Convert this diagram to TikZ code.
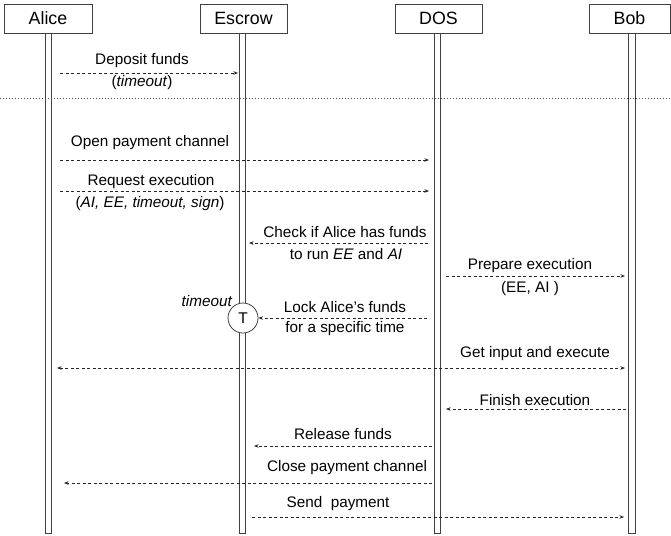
\documentclass[tikz,border=0pt]{standalone}
\usepackage{fontspec}
\setmainfont{Liberation Sans}
\usetikzlibrary{arrows.meta}
\begin{document}
\begin{tikzpicture}[x=1pt,y=-1pt,
  actor/.style={draw=black!75, line width=0.8pt, fill=white, minimum height=29pt, inner sep=0pt, font=\fontsize{17.8}{20}\selectfont},
  life/.style={draw=black!75, line width=0.9pt, fill=white, minimum width=6.5pt, minimum height=500pt, inner sep=0pt},
  msg/.style={draw=black!85, line width=0.65pt, dash pattern=on 3pt off 2.5pt, -{Stealth[length=4.5pt,width=3.5pt]}},
  lbl/.style={font=\fontsize{15.3}{18}\selectfont, inner sep=0pt, anchor=center},
  sep/.style={draw=black!65, line width=0.8pt, dash pattern=on 1pt off 2pt}
]
\useasboundingbox (0,0) rectangle (671,535);

% lifelines
\node[life] (lA) at (48.5,283) {};
\node[life] (lE) at (242.5,283) {};
\node[life] (lD) at (437.5,283) {};
\node[life] (lB) at (632,283) {};

% actors
\node[actor, minimum width=88pt] (A) at (48,18.5) {Alice};
\node[actor, minimum width=87pt] (E) at (243.5,18.5) {Escrow};
\node[actor, minimum width=87pt] (D) at (438.5,18.5) {DOS};
\node[actor, minimum width=81pt] (B) at (629.5,18.5) {Bob};

% separator
\coordinate (s1) at (0,98);
\coordinate (s2) at (671,98);
\draw[sep] (s1) -- (s2);

% 1 deposit
\coordinate (m1s) at (60,73);  \coordinate (m1e) at (238,73);
\draw[msg] (m1s) -- (m1e);
\node[lbl] (t1a) at (142,61) {Deposit funds};
\node[lbl] (t1b) at (142,83) {(\textit{timeout})};

% 2 open channel
\coordinate (m2s) at (60,160);  \coordinate (m2e) at (429,160);
\draw[msg] (m2s) -- (m2e);
\node[lbl] (t2) at (150,143) {Open payment channel};

% 3 request execution
\coordinate (m3s) at (60,191);  \coordinate (m3e) at (429,191);
\draw[msg] (m3s) -- (m3e);
\node[lbl] (t3a) at (151,182) {Request execution};
\node[lbl] (t3b) at (150,204) {(\textit{AI, EE, timeout, sign})};

% 4 check funds
\coordinate (m4s) at (428,243);  \coordinate (m4e) at (249,243);
\draw[msg] (m4s) -- (m4e);
\node[lbl] (t4a) at (345,232) {Check if Alice has funds};
\node[lbl] (t4b) at (346,254) {to run \textit{EE} and \textit{AI}};

% 5 prepare execution
\coordinate (m5s) at (446,276);  \coordinate (m5e) at (625,276);
\draw[msg] (m5s) -- (m5e);
\node[lbl] (t5a) at (530,266) {Prepare execution};
\node[lbl] (t5b) at (530,289) {(EE, AI )};

% 6 lock funds
\node[circle, draw=black!75, line width=0.8pt, fill=white, minimum size=30pt, inner sep=0pt, font=\fontsize{15.5}{18}\selectfont] (T) at (243,318) {T};
\node[lbl] (tT) at (207,301) {\textit{timeout}};
\coordinate (m6s) at (427,318);
\draw[msg] (m6s) -- (T.east);
\node[lbl] (t6a) at (345,307) {Lock Alice’s funds};
\node[lbl] (t6b) at (345,329) {for a specific time};

% 7 get input and execute
\coordinate (m7s) at (57,368);  \coordinate (m7e) at (625,368);
\draw[msg, {Stealth[length=4.5pt,width=3.5pt]}-{Stealth[length=4.5pt,width=3.5pt]}] (m7s) -- (m7e);
\node[lbl] (t7) at (535,354) {Get input and execute};

% 8 finish execution
\coordinate (m8s) at (626,409);  \coordinate (m8e) at (446,409);
\draw[msg] (m8s) -- (m8e);
\node[lbl] (t8) at (535,400) {Finish execution};

% 9 release funds
\coordinate (m9s) at (432,446);  \coordinate (m9e) at (254,446);
\draw[msg] (m9s) -- (m9e);
\node[lbl] (t9) at (343,434) {Release funds};

% 10 close channel
\coordinate (m10s) at (432,483);  \coordinate (m10e) at (64,483);
\draw[msg] (m10s) -- (m10e);
\node[lbl] (t10) at (347,468) {Close payment channel};

% 11 send payment
\coordinate (m11s) at (252,517);  \coordinate (m11e) at (624,517);
\draw[msg] (m11s) -- (m11e);
\node[lbl] (t11) at (338,504) {Send\ \ payment};
\end{tikzpicture}
\end{document}
